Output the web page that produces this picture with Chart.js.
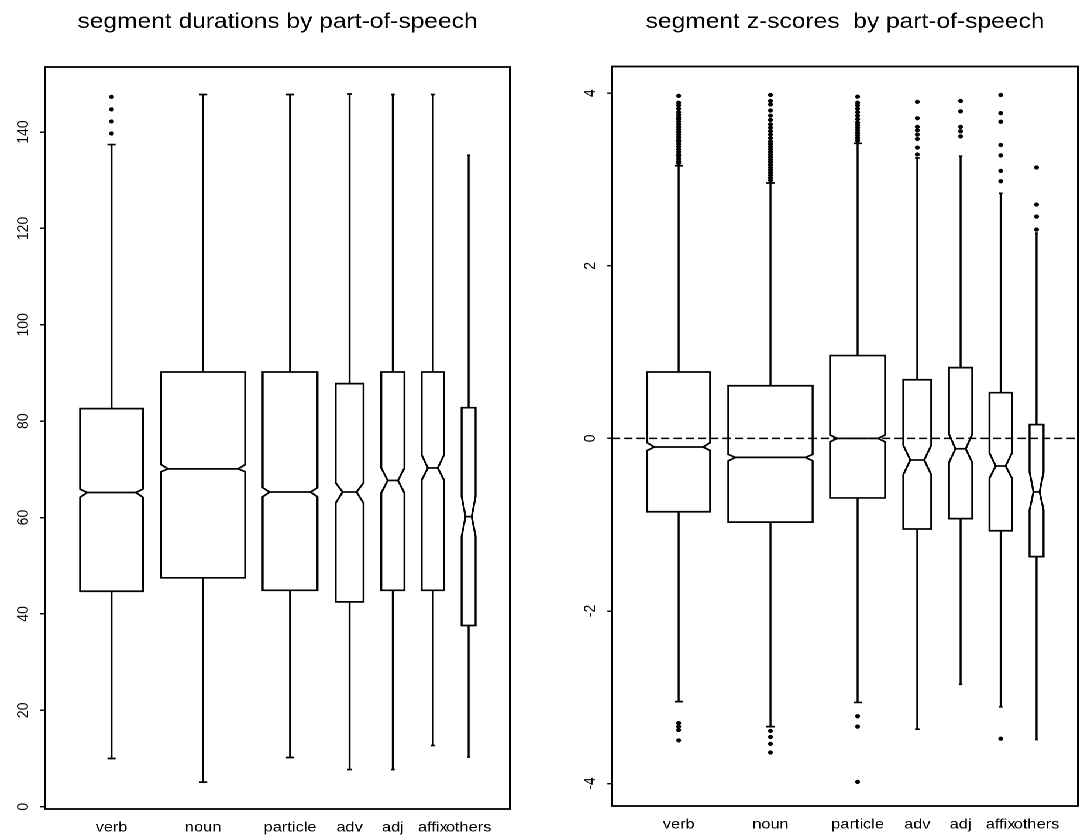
<!DOCTYPE html>
<html>
<head>
<meta charset="utf-8">
<title>segment durations / z-scores by part-of-speech</title>
<script src="https://cdn.jsdelivr.net/npm/chart.js@4.4.1/dist/chart.umd.min.js"></script>
<style>
    html, body { margin: 0; padding: 0; background: #fff; overflow: hidden; }
    /* the original scan is a little wider than tall, so stretch both panels horizontally */
    #wrap { position: absolute; left: 0; top: 0; width: 925px; height: 840px; transform: scaleX(1.17); transform-origin: 0 0; }
    #p1 { position: absolute; left: 0; top: 0; width: 462px; height: 840px; }
    #p2 { position: absolute; left: 462px; top: 0; width: 463px; height: 840px; }
</style>
</head>
<body>
<div id="wrap">
    <div id="p1"><canvas id="durChart"></canvas></div>
    <div id="p2"><canvas id="zChart"></canvas></div>
</div>
<script>
var categories = ["verb", "noun", "particle", "adv", "adj", "affix", "others"];
// box centres and (varwidth) widths on the x axis, which runs 0..10
var boxAt = [1.43, 3.40, 5.27, 6.55, 7.48, 8.34, 9.11];
var boxWidth = [1.35, 1.81, 1.18, 0.60, 0.50, 0.48, 0.30];

// segment durations
var durLowWhisker = [10.0, 5.1, 10.2, 7.7, 7.7, 12.7, 10.3];
var durQ1 = [44.7, 47.5, 44.9, 42.5, 44.9, 44.9, 37.6];
var durNotchLo = [64.2, 69.5, 64.3, 63.0, 65.1, 67.8, 56.1];
var durMedian = [65.2, 70.1, 65.3, 65.3, 67.7, 70.3, 60.2];
var durNotchHi = [65.9, 71.0, 66.2, 67.2, 70.3, 73.0, 64.4];
var durQ3 = [82.6, 90.2, 90.2, 87.8, 90.2, 90.2, 82.8];
var durHighWhisker = [137.4, 147.8, 147.8, 147.9, 147.8, 147.8, 135.2];
var durOutliers = [
    [139.7, 142.2, 144.7, 147.3],
    [], [], [], [], [], []
];
var durTicks = [0, 20, 40, 60, 80, 100, 120, 140];

// segment z-scores
var zLowWhisker = [-3.05, -3.34, -3.06, -3.37, -2.85, -3.11, -3.49];
var zQ1 = [-0.85, -0.97, -0.69, -1.05, -0.93, -1.07, -1.37];
var zNotchLo = [-0.14, -0.26, -0.04, -0.42, -0.28, -0.46, -0.83];
var zMedian = [-0.10, -0.22, 0.00, -0.25, -0.12, -0.32, -0.62];
var zNotchHi = [-0.05, -0.185, 0.04, -0.08, 0.05, -0.17, -0.39];
var zQ3 = [0.77, 0.61, 0.96, 0.68, 0.82, 0.53, 0.16];
var zHighWhisker = [3.16, 2.96, 3.42, 3.25, 3.27, 2.84, 2.38];
var zOutliers = [
    [3.19, 3.21, 3.24, 3.27, 3.29, 3.32, 3.35, 3.38, 3.41, 3.44, 3.46, 3.49, 3.52, 3.55, 3.58,
     3.61, 3.64, 3.67, 3.70, 3.72, 3.75, 3.78, 3.82, 3.86, 3.89, 3.97,
     -3.30, -3.34, -3.38, -3.50],
    [2.99, 3.02, 3.05, 3.08, 3.11, 3.14, 3.17, 3.20, 3.23, 3.26, 3.29, 3.32, 3.35, 3.38, 3.41,
     3.44, 3.48, 3.52, 3.56, 3.60, 3.64, 3.69, 3.74, 3.80, 3.87, 3.91, 3.98,
     -3.39, -3.46, -3.54, -3.64],
    [3.45, 3.48, 3.51, 3.54, 3.57, 3.60, 3.63, 3.66, 3.70, 3.74, 3.78, 3.82, 3.86, 3.89, 3.96,
     -3.22, -3.34, -3.98],
    [3.29, 3.37, 3.47, 3.52, 3.57, 3.61, 3.71, 3.90],
    [3.50, 3.56, 3.61, 3.79, 3.91],
    [2.98, 3.10, 3.28, 3.40, 3.67, 3.77, 3.98, -3.48],
    [2.42, 2.57, 2.71, 3.14]
];
var zTicks = [-4, -2, 0, 2, 4];

var FONT = '"Liberation Sans", Arial, Helvetica, sans-serif';
Chart.defaults.font.family = FONT;
Chart.defaults.color = "#000";

// draws notched boxes, whiskers, the frame and the rotated y labels
function boxPlugin(p) {
    return {
        id: "notchedBoxes",
        beforeDatasetsDraw: function(chart) {
            var ctx = chart.ctx;
            var xs = chart.scales.x, ys = chart.scales.y;
            var area = chart.chartArea;
            ctx.save();
            ctx.strokeStyle = "#000";
            ctx.lineWidth = 1.7;
            ctx.lineJoin = "miter";

            categories.forEach(function(c, i) {
                var cx = xs.getPixelForValue(boxAt[i]);
                var l = xs.getPixelForValue(boxAt[i] - boxWidth[i] / 2);
                var r = xs.getPixelForValue(boxAt[i] + boxWidth[i] / 2);
                var w = r - l;
                var inset = Math.min(w * 0.28, 6);
                var cap = Math.max(1, Math.min(w * 0.08, 3.5));

                var yLo = ys.getPixelForValue(p.low[i]);
                var yQ1 = ys.getPixelForValue(p.q1[i]);
                var yNlo = ys.getPixelForValue(p.notchLo[i]);
                var yMed = ys.getPixelForValue(p.median[i]);
                var yNhi = ys.getPixelForValue(p.notchHi[i]);
                var yQ3 = ys.getPixelForValue(p.q3[i]);
                var yHi = ys.getPixelForValue(p.high[i]);

                // whiskers and staples
                ctx.beginPath();
                ctx.moveTo(cx, yQ3); ctx.lineTo(cx, yHi);
                ctx.moveTo(cx - cap, yHi); ctx.lineTo(cx + cap, yHi);
                ctx.moveTo(cx, yQ1); ctx.lineTo(cx, yLo);
                ctx.moveTo(cx - cap, yLo); ctx.lineTo(cx + cap, yLo);
                ctx.stroke();

                // notched box
                ctx.beginPath();
                ctx.moveTo(l, yQ1);
                ctx.lineTo(l, yNlo);
                ctx.lineTo(l + inset, yMed);
                ctx.lineTo(l, yNhi);
                ctx.lineTo(l, yQ3);
                ctx.lineTo(r, yQ3);
                ctx.lineTo(r, yNhi);
                ctx.lineTo(r - inset, yMed);
                ctx.lineTo(r, yNlo);
                ctx.lineTo(r, yQ1);
                ctx.closePath();
                ctx.stroke();

                ctx.beginPath();
                ctx.moveTo(l + inset, yMed);
                ctx.lineTo(r - inset, yMed);
                ctx.stroke();
            });

            if (p.refLine !== undefined) {
                var y0 = ys.getPixelForValue(p.refLine);
                ctx.save();
                ctx.lineWidth = 1.5;
                ctx.setLineDash([7, 3.5]);
                ctx.beginPath();
                ctx.moveTo(area.left, y0);
                ctx.lineTo(area.right, y0);
                ctx.stroke();
                ctx.restore();
            }

            ctx.lineWidth = 1.8;
            ctx.strokeRect(area.left, area.top, area.right - area.left, area.bottom - area.top);

            ctx.fillStyle = "#000";
            ctx.font = "14px " + FONT;
            ctx.textAlign = "center";
            ctx.textBaseline = "alphabetic";
            p.ticks.forEach(function(v) {
                var y = ys.getPixelForValue(v);
                ctx.save();
                ctx.translate(area.left - 14.5, y);
                ctx.rotate(-Math.PI / 2);
                ctx.fillText(String(v), 0, 0);
                ctx.restore();
            });
            ctx.restore();
        }
    };
}

function makePanel(canvasId, p) {
    var points = [];
    p.outliers.forEach(function(list, i) {
        list.forEach(function(v) {
            points.push({ x: boxAt[i], y: v });
        });
    });

    return new Chart(document.getElementById(canvasId), {
        type: "scatter",
        data: {
            datasets: [{
                data: points,
                pointRadius: 2.1,
                pointHoverRadius: 2.1,
                pointBorderWidth: 0,
                pointBackgroundColor: "#000",
                borderColor: "#000"
            }]
        },
        options: {
            responsive: true,
            maintainAspectRatio: false,
            animation: false,
            devicePixelRatio: 2,
            events: [],
            layout: { padding: { left: 0, right: p.padRight, top: 0, bottom: 0 } },
            plugins: {
                legend: { display: false },
                tooltip: { enabled: false },
                title: {
                    display: true,
                    text: p.title,
                    fullSize: false,
                    color: "#000",
                    font: { size: 21, weight: "normal", lineHeight: 1.2 },
                    padding: { top: 9.4, bottom: p.titleGap }
                }
            },
            scales: {
                x: {
                    type: "linear",
                    min: 0,
                    max: 10,
                    afterBuildTicks: function(s) {
                        s.ticks = boxAt.map(function(v) { return { value: v }; });
                    },
                    afterFit: function(s) { s.height = p.xAxisHeight; },
                    grid: { display: false, drawTicks: false },
                    border: { display: false },
                    ticks: {
                        autoSkip: false,
                        maxRotation: 0,
                        minRotation: 0,
                        padding: 10,
                        color: "#000",
                        font: { size: 14 },
                        callback: function(v, i) { return categories[i]; }
                    }
                },
                y: {
                    type: "linear",
                    min: p.min,
                    max: p.max,
                    afterBuildTicks: function(s) {
                        s.ticks = p.ticks.map(function(v) { return { value: v }; });
                    },
                    afterFit: function(s) { s.width = p.yAxisWidth; },
                    grid: { display: true, drawOnChartArea: false, drawTicks: true, tickLength: 4, color: "#000", lineWidth: 1.4 },
                    border: { display: false },
                    ticks: { display: false }
                }
            }
        },
        plugins: [boxPlugin(p)]
    });
}

makePanel("durChart", {
    title: "segment durations by part-of-speech",
    low: durLowWhisker, q1: durQ1, notchLo: durNotchLo, median: durMedian,
    notchHi: durNotchHi, q3: durQ3, high: durHighWhisker, outliers: durOutliers,
    ticks: durTicks, min: -0.48, max: 153.5,
    yAxisWidth: 38.5, padRight: 26.1, xAxisHeight: 31, titleGap: 32.4
});

makePanel("zChart", {
    title: "segment z-scores  by part-of-speech",
    low: zLowWhisker, q1: zQ1, notchLo: zNotchLo, median: zMedian,
    notchHi: zNotchHi, q3: zQ3, high: zHighWhisker, outliers: zOutliers,
    ticks: zTicks, min: -4.26, max: 4.31, refLine: 0,
    yAxisWidth: 61.1, padRight: 3.6, xAxisHeight: 34, titleGap: 31.9
});
</script>
</body>
</html>
